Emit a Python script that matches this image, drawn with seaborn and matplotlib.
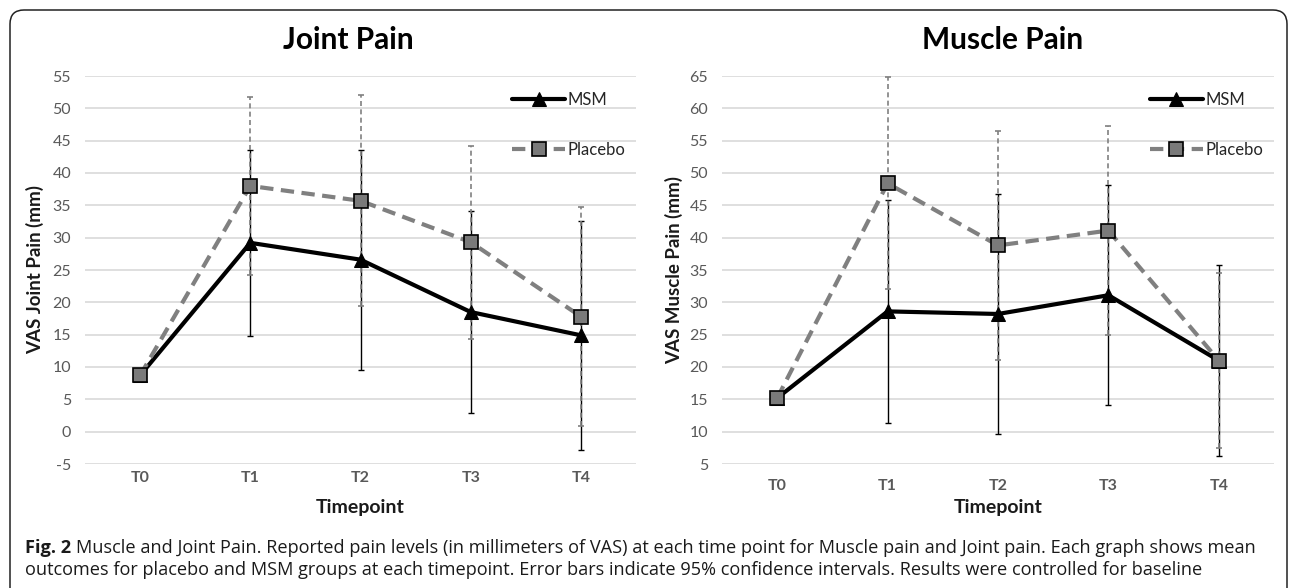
import matplotlib
matplotlib.use("Agg")
import matplotlib.pyplot as plt
from matplotlib.patches import FancyBboxPatch
from matplotlib.transforms import IdentityTransform
import seaborn as sns

# data (VAS mm, mean and 95% CI half-width)
timepoints = ["T0", "T1", "T2", "T3", "T4"]

joint_msm = [8.7, 29.2, 26.6, 18.5, 14.9]
joint_msm_err = [0, 14.4, 17.0, 15.6, 17.7]
joint_placebo = [8.7, 38.0, 35.7, 29.3, 17.8]
joint_placebo_err = [0, 13.8, 16.3, 14.9, 16.9]

muscle_msm = [15.2, 28.6, 28.2, 31.1, 21.0]
muscle_msm_err = [0, 17.2, 18.5, 17.0, 14.8]
muscle_placebo = [15.2, 48.4, 38.8, 41.1, 21.0]
muscle_placebo_err = [0, 16.4, 17.7, 16.2, 13.6]

caption_line1 = ("Muscle and Joint Pain. Reported pain levels (in millimeters of VAS) at each time point "
                 "for Muscle pain and Joint pain. Each graph shows mean")
caption_line2 = ("outcomes for placebo and MSM groups at each timepoint. Error bars indicate 95% "
                 "confidence intervals. Results were controlled for baseline")

W, H = 1292, 588
GRID = "#d9d9d9"
TICK = "#595959"
GRAY = "#808080"

sns.set_theme(style="white")
plt.rcParams["font.family"] = ["Lato", "DejaVu Sans"]
plt.rcParams["axes.unicode_minus"] = False


def draw_panel(ax, msm, msm_err, placebo, placebo_err, title, ylabel, ylim, title_x, xtick_pad):
    # lines first so the category order on x stays T0..T4
    sns.lineplot(x=timepoints, y=msm, ax=ax, color="black", linewidth=3.0,
                 marker="^", markersize=10, markerfacecolor="black",
                 markeredgecolor="black", label="MSM", zorder=3)
    sns.lineplot(x=timepoints, y=placebo, ax=ax, color=GRAY, linewidth=3.0,
                 linestyle=(0, (3.2, 1.8)), marker="s", markersize=9.5,
                 markerfacecolor="#7a7a7a", markeredgecolor="black",
                 markeredgewidth=1.2, label="Placebo", zorder=3)

    # error bars only where an interval exists (not at baseline)
    idx = [i for i, e in enumerate(msm_err) if e > 0]
    ax.errorbar([timepoints[i] for i in idx], [msm[i] for i in idx],
                yerr=[msm_err[i] for i in idx], fmt="none", ecolor="black",
                elinewidth=1.0, capsize=2.5, capthick=1.0, zorder=2)
    idx = [i for i, e in enumerate(placebo_err) if e > 0]
    eb2 = ax.errorbar([timepoints[i] for i in idx], [placebo[i] for i in idx],
                      yerr=[placebo_err[i] for i in idx], fmt="none", ecolor=GRAY,
                      elinewidth=1.2, capsize=2.5, capthick=1.2, zorder=2)
    eb2[2][0].set_linestyle((0, (3, 2)))

    ax.set_xlim(-0.5, 4.5)
    ax.set_ylim(*ylim)
    ax.set_yticks(range(ylim[0], ylim[1] + 1, 5))
    ax.yaxis.grid(True, color=GRID, linewidth=1.2)
    ax.xaxis.grid(False)
    for s in ax.spines.values():
        s.set_visible(False)
    ax.tick_params(axis="y", length=0, pad=10, labelsize=11.5, labelcolor=TICK)
    ax.tick_params(axis="x", length=0, pad=xtick_pad, labelsize=11.5, labelcolor=TICK)
    for lbl in ax.get_xticklabels():
        lbl.set_fontweight("bold")

    ax.set_xlabel("Timepoint", fontsize=14, fontweight="bold", color="#1a1a1a")
    ax.xaxis.label.set_va("center")
    ax.xaxis.set_label_coords(0.5, -(508 - 464) / 388)
    ax.set_ylabel(ylabel, fontsize=13.5, fontweight="bold", color="#1a1a1a")
    ax.yaxis.label.set_va("center")

    handles = [l for l in ax.get_lines() if l.get_label() in ("MSM", "Placebo")]
    ax.legend(handles=handles, loc="center left", bbox_to_anchor=(0.775, 0.874),
              frameon=False, fontsize=12, handlelength=3.2, handletextpad=0.15,
              labelspacing=2.0, borderpad=0, borderaxespad=0, labelcolor="#262626")

    ax.figure.text(title_x / W, 1 - 40 / H, title, ha="center", va="center",
                   fontsize=21.5, fontweight="bold", color="black")


fig = plt.figure(figsize=(W / 100, H / 100), dpi=100)
ax1 = fig.add_axes([85 / W, 1 - 464 / H, 551 / W, 388 / H])
ax2 = fig.add_axes([722 / W, 1 - 464 / H, 552 / W, 388 / H])

draw_panel(ax1, joint_msm, joint_msm_err, joint_placebo, joint_placebo_err,
           "Joint Pain", "VAS Joint Pain (mm)", (-5, 55), 348, 5)
draw_panel(ax2, muscle_msm, muscle_msm_err, muscle_placebo, muscle_placebo_err,
           "Muscle Pain", "VAS Muscle Pain (mm)", (5, 65), 1003, 11)
ax1.yaxis.set_label_coords((35 - 85) / 551, 0.5)
ax2.yaxis.set_label_coords((674 - 722) / 552, 0.5)

# rounded frame around the figure panel (open at the bottom)
frame = FancyBboxPatch((10, -30), 1277, 608, boxstyle="round,pad=0,rounding_size=14",
                       transform=IdentityTransform(), fill=False,
                       edgecolor="#222222", linewidth=1.1)
fig.patches.append(frame)

# caption
cap_font = ["Open Sans", "DejaVu Sans"]
cap_size = 13.1
x0 = 25
fig_lbl = fig.text(x0 / W, 1 - 548 / H, "Fig. 2", fontsize=cap_size, fontweight="bold",
                   family=cap_font, va="center", ha="left", color="#1a1a1a")
renderer = fig.canvas.get_renderer()
lbl_w = fig_lbl.get_window_extent(renderer).width
fig.text((x0 + lbl_w + 5) / W, 1 - 548 / H, caption_line1, fontsize=cap_size,
         family=cap_font, va="center", ha="left", color="#1a1a1a")
fig.text(x0 / W, 1 - 570 / H, caption_line2, fontsize=cap_size,
         family=cap_font, va="center", ha="left", color="#1a1a1a")

fig.savefig("out.png", dpi=100)
